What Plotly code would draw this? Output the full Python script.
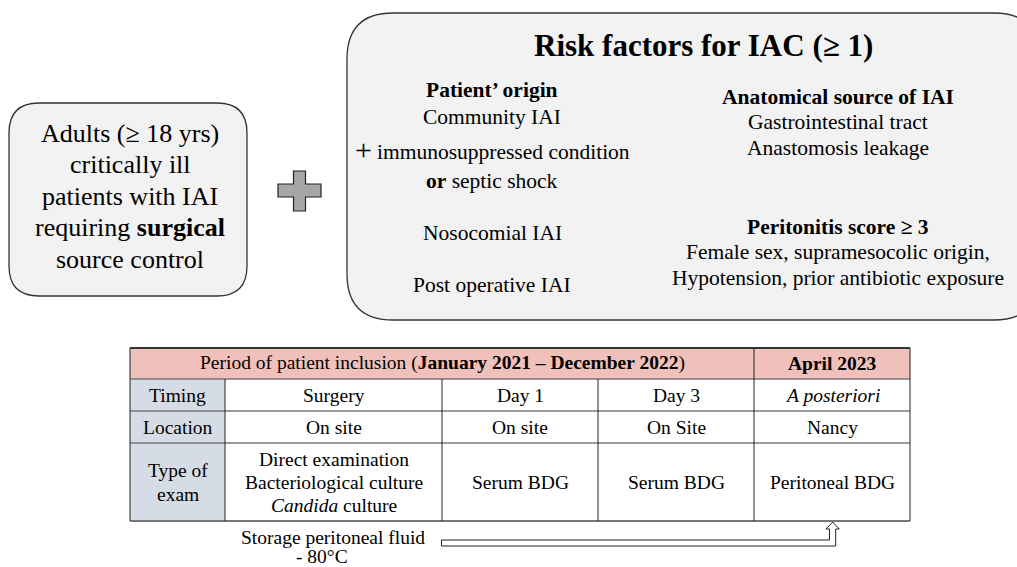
import plotly.graph_objects as go

W, H = 1017, 567
FONT = "Liberation Serif"

# ---- content ----
left_box_lines = ["Adults (≥ 18 yrs)", "critically ill", "patients with IAI",
                  "requiring <b>surgical</b>", "source control"]
risk_title = "<b>Risk factors for IAC (≥ 1)</b>"
origin_lines = ["<b>Patient’ origin</b>", "Community IAI", "immunosuppressed condition",
                "<b>or</b> septic shock", "Nosocomial IAI", "Post operative IAI"]
anat_lines = ["<b>Anatomical source of IAI</b>", "Gastrointestinal tract", "Anastomosis leakage"]
perit_lines = ["<b>Peritonitis score ≥ 3</b>", "Female sex, supramesocolic origin,",
               "Hypotension, prior antibiotic exposure"]
header_cells = ["Period of patient inclusion (<b>January 2021 – December 2022</b>)", "<b>April 2023</b>"]
row_labels = [["Timing"], ["Location"], ["Type of", "exam"]]
timing = [["Surgery"], ["Day 1"], ["Day 3"], ["<i>A posteriori</i>"]]
location = [["On site"], ["On site"], ["On Site"], ["Nancy"]]
exam = [["Direct examination", "Bacteriological culture", "<i>Candida</i> culture"],
        ["Serum BDG"], ["Serum BDG"], ["Peritoneal BDG"]]
storage_lines = ["Storage peritoneal fluid", "- 80°C"]

fig = go.Figure()
shapes = []
ann = []


def rrect(x0, y0, x1, y1, r):
    return (f"M {x0+r},{y0} L {x1-r},{y0} Q {x1},{y0} {x1},{y0+r} "
            f"L {x1},{y1-r} Q {x1},{y1} {x1-r},{y1} L {x0+r},{y1} "
            f"Q {x0},{y1} {x0},{y1-r} L {x0},{y0+r} Q {x0},{y0} {x0+r},{y0} Z")


def text(x, y, s, size, color="#000000", xanchor="center"):
    ann.append(dict(x=x, y=y, text=s, showarrow=False, xref="x", yref="y",
                    xanchor=xanchor, yanchor="middle",
                    font=dict(family=FONT, size=size, color=color)))


def cell_text(x, yc, lines, size, step):
    n = len(lines)
    for k, s in enumerate(lines):
        text(x, yc + (k - (n - 1) / 2) * step, s, size)


# left box
shapes.append(dict(type="path", path=rrect(9, 103, 247, 296, 30),
                   fillcolor="#f2f2f2", line=dict(color="#333333", width=1.3)))
for i, s in enumerate(left_box_lines):
    text(130, 133 + i * 31.5, s, 26)

# plus sign
px = [293.5, 305.5, 305.5, 321, 321, 305.5, 305.5, 293.5, 293.5, 278, 278, 293.5]
py = [171, 171, 184, 184, 197, 197, 211, 211, 197, 197, 184, 184]
path = "M " + " L ".join(f"{a},{b}" for a, b in zip(px, py)) + " Z"
shapes.append(dict(type="path", path=path, fillcolor="#a6a6a6",
                   line=dict(color="#222222", width=1.2)))

# big box
shapes.append(dict(type="path", path=rrect(347, 13, 1040, 320, 46),
                   fillcolor="#f2f2f2", line=dict(color="#333333", width=1.3)))
text(703, 45, risk_title, 31)

oy = [90, 117, 152, 181, 233, 285]
for s, y in zip(origin_lines, oy):
    x = 503 if s.startswith("immuno") else 492
    text(x, y, s, 21.5)
text(363, 149, "+", 30)

for s, y in zip(anat_lines, [97, 122, 148]):
    text(838, y, s, 21.5)
for s, y in zip(perit_lines, [227, 252, 278]):
    text(838, y, s, 21.5)

# table
cx = [130, 225, 442, 598, 754, 910]
ry = [348, 379, 411, 443, 521]
shapes.append(dict(type="rect", x0=cx[0], x1=cx[4], y0=ry[0], y1=ry[1],
                   fillcolor="#f0c0ba", line=dict(width=0)))
shapes.append(dict(type="rect", x0=cx[4], x1=cx[5], y0=ry[0], y1=ry[1],
                   fillcolor="#f0c0ba", line=dict(width=0)))
shapes.append(dict(type="rect", x0=cx[0], x1=cx[1], y0=ry[1], y1=ry[4],
                   fillcolor="#d6dce5", line=dict(width=0)))
for y in ry:
    w = 2 if y in (ry[0], ry[-1]) else 1.3
    c = "#333333" if y == ry[0] else "#777777"
    shapes.append(dict(type="line", x0=cx[0], x1=cx[-1], y0=y, y1=y,
                       line=dict(color=c, width=w)))
for x in cx:
    y0 = ry[0] if x in (cx[0], cx[4], cx[5]) else ry[1]
    shapes.append(dict(type="line", x0=x, x1=x, y0=y0, y1=ry[-1],
                       line=dict(color="#222222", width=1)))

TS = 19.5
text((cx[0] + cx[4]) / 2, 363, header_cells[0], TS)
text((cx[4] + cx[5]) / 2, 363, header_cells[1], TS)
rows = [timing, location, exam]
for r, (lab, vals) in enumerate(zip(row_labels, rows)):
    yc = (ry[r + 1] + ry[r + 2]) / 2
    cell_text((cx[0] + cx[1]) / 2, yc, lab, TS, 24)
    for c, v in enumerate(vals):
        cell_text((cx[c + 1] + cx[c + 2]) / 2, yc, v, TS, 23)

# storage text + hollow arrow
text(333, 537, storage_lines[0], TS)
text(322, 556, storage_lines[1], TS)
ap = [(441.5, 540), (829.5, 540), (829.5, 529), (826, 529), (832.7, 522),
      (839.3, 529), (835.7, 529), (835.7, 546), (441.5, 546)]
path = "M " + " L ".join(f"{a},{b}" for a, b in ap) + " Z"
shapes.append(dict(type="path", path=path, fillcolor="white",
                   line=dict(color="#222222", width=1)))

fig.update_layout(
    width=W, height=H, margin=dict(l=0, r=0, t=0, b=0),
    paper_bgcolor="white", plot_bgcolor="white",
    font=dict(family=FONT),
    xaxis=dict(range=[0, W], visible=False, fixedrange=True),
    yaxis=dict(range=[H, 0], visible=False, fixedrange=True),
    shapes=shapes, annotations=ann, showlegend=False,
)
fig.write_html("out.html", config={"displayModeBar": False},
               post_script="document.body.style.margin='0';document.body.style.overflow='hidden';")
